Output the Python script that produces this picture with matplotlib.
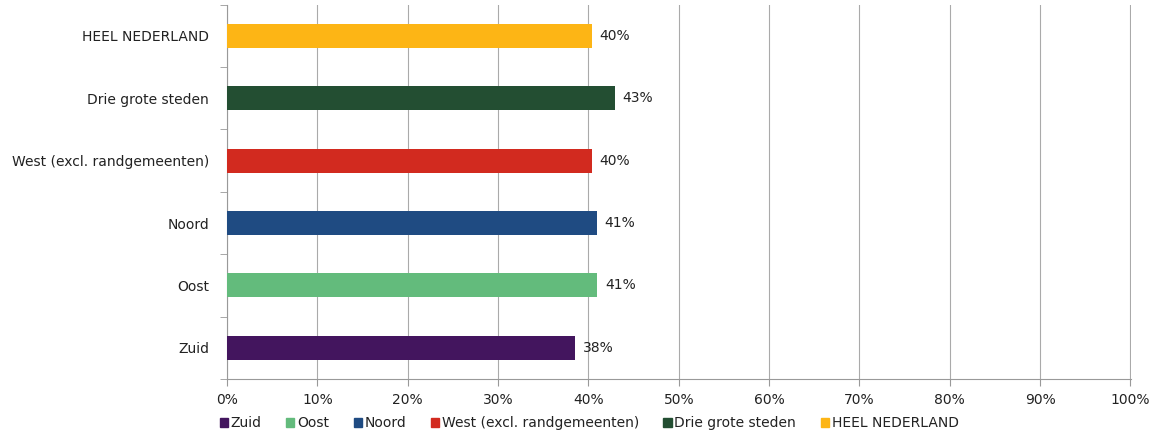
import numpy as np
import matplotlib.pyplot as plt
from matplotlib.ticker import FixedLocator, PercentFormatter

# data, bottom to top
regions = ["Zuid", "Oost", "Noord", "West (excl. randgemeenten)",
           "Drie grote steden", "HEEL NEDERLAND"]
values = [38.5, 41.0, 40.9, 40.4, 42.9, 40.4]
colors = ["#43155e", "#63bb7c", "#1f4b82", "#d22a1f", "#234e32", "#fdb515"]

plt.rcParams['font.family'] = ['DejaVu Sans']

fig = plt.figure(figsize=(11.53, 4.36), dpi=100)
ax = fig.add_axes([0.197, 0.131, 0.784, 0.858])

y = np.arange(len(regions))
bars = ax.barh(y, values, height=0.385, color=colors, zorder=3)
for b, v in zip(bars, values):
    ax.text(v + 0.85, b.get_y() + b.get_height() / 2, f"{round(v):.0f}%",
            va="center", ha="left", fontsize=10, color="#222222")

ax.set_xlim(0, 100.08)
ax.set_ylim(-0.5, len(regions) - 0.5)
ax.set_xticks(np.arange(0, 101, 10))
ax.xaxis.set_major_formatter(PercentFormatter(decimals=0))
ax.set_yticks(y)
ax.set_yticklabels(regions)
ax.yaxis.set_minor_locator(FixedLocator(np.arange(-0.5, len(regions), 1)))
ax.tick_params(axis="y", which="major", length=0, pad=13, labelsize=10,
               labelcolor="#222222")
ax.tick_params(axis="y", which="minor", length=5, color="#999999")
ax.tick_params(axis="x", length=5, color="#999999", labelsize=10, pad=5,
               labelcolor="#222222")

ax.grid(axis="x", color="#aaaaaa", linewidth=0.8, zorder=0)
for s in ["top", "right"]:
    ax.spines[s].set_visible(False)
ax.spines["left"].set_color("#999999")
ax.spines["bottom"].set_color("#999999")

handles = [plt.Rectangle((0, 0), 1, 1, color=c) for c in colors]
leg = fig.legend(handles, regions, loc="lower center", ncol=6, frameon=False,
                 bbox_to_anchor=(0.511, -0.015), fontsize=10, handlelength=0.6,
                 handleheight=0.6, handletextpad=0.2, columnspacing=1.75)
for t in leg.get_texts():
    t.set_color("#222222")

fig.savefig("out.png", dpi=100)
